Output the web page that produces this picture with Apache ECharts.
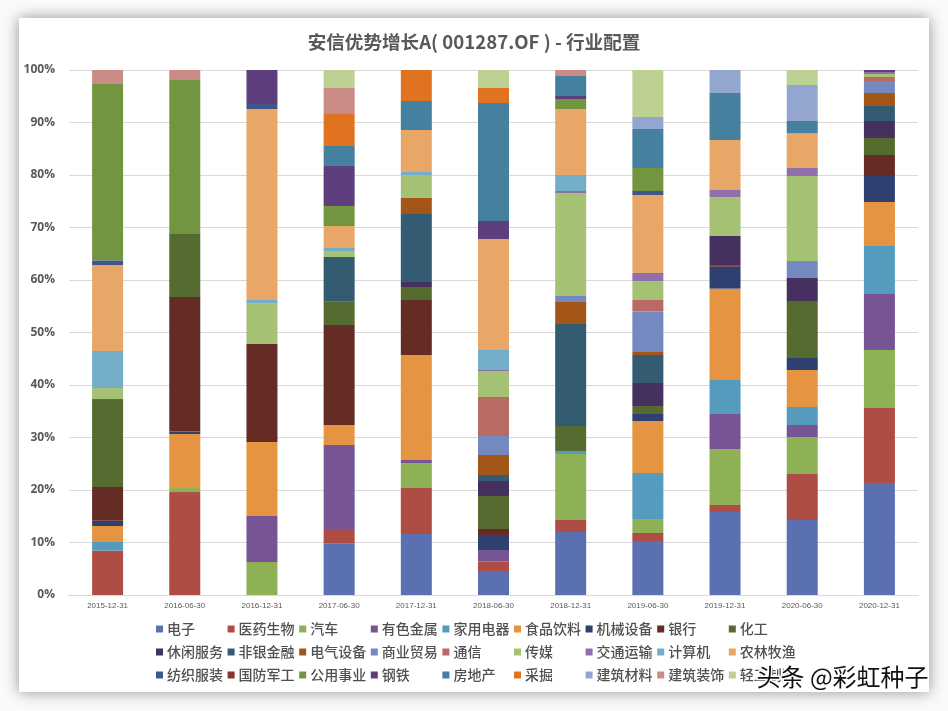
<!DOCTYPE html>
<html><head><meta charset="utf-8">
<script src="https://cdn.jsdelivr.net/npm/echarts@6/dist/echarts.min.js"></script>
<style>
html,body{margin:0;padding:0;width:948px;height:711px;background:#fafafa;overflow:hidden}
#card{position:absolute;left:19px;top:18px;width:910px;height:674px;background:#fff;box-shadow:0 0 14px rgba(0,0,0,.42)}
#c{position:absolute;left:0;top:0;width:948px;height:711px}
</style></head><body>
<div id="card"></div><div id="c"></div>
<script>
const categories=['2015-12-31','2016-06-30','2016-12-31','2017-06-30','2017-12-31','2018-06-30','2018-12-31','2019-06-30','2019-12-31','2020-06-30','2020-12-31'];
const titleText='安信优势增长A( 001287.OF ) - 行业配置';
const yTicks=[0,10,20,30,40,50,60,70,80,90,100];
const dianzi=[0,0,0,9.84,11.62,4.57,12,10.29,15.81,14.29,21.33];
const yiyao=[8.44,19.6,0,2.73,8.76,1.84,2.29,1.52,1.33,8.76,14.29];
const qiche=[0,.78,6.29,0,4.76,0,12.57,2.67,10.67,7.05,11.05];
const youse=[0,0,8.76,16,.57,2.16,0,0,6.67,2.28,10.66];
const jiadian=[1.66,0,0,0,0,0,.57,8.76,6.47,3.43,9.15];
const shipin=[3.04,10.29,14.09,3.81,20,0,0,9.9,17.4,7.05,8.38];
const jixie=[1,.5,0,0,0,2.86,0,1.34,4.18,2.28,4.95];
const yinhang=[6.42,25.59,18.67,19.05,10.48,1.14,0,0,.17,0,4];
const huagong=[16.76,12,0,4.44,2.48,6.29,4.76,1.52,0,10.86,3.24];
const xiuxian=[0,0,0,0,.95,2.85,0,4.38,5.68,4.38,3.24];
const feiyin=[0,0,0,8.51,12.95,1.15,19.43,5.33,0,0,2.85];
const dianqi=[0,0,0,0,3.05,3.81,4.19,.58,0,0,2.48];
const shangye=[0,0,0,0,0,3.62,1.14,7.68,0,3.24,2.28];
const tongxin=[0,0,0,0,0,7.42,0,2.22,0,0,.77];
const chuanmei=[2.1,0,7.74,1.14,4.38,4.96,19.62,3.62,7.43,16.19,.57];
const jiaotong=[0,0,0,0,0,.19,.38,1.52,1.33,1.52,.38];
const jisuanji=[7.05,0,.64,.58,.57,3.81,3.05,0,0,0,0];
const nonglin=[16.38,0,36.38,4.19,8,21.14,12.57,14.86,9.53,6.61,0];
const fangzhi=[.89,0,.95,0,0,0,0,.76,0,0,0];
const guofang=[0,0,0,0,0,0,0,0,0,0,0];
const gongyong=[33.75,29.34,0,3.81,0,0,1.91,4.38,0,0,0];
const gangtie=[0,0,6.48,7.61,0,3.43,.57,0,0,0,.38];
const fangdichan=[0,0,0,3.81,5.53,22.47,3.81,7.43,8.95,2.35,0];
const caijue=[0,0,0,6.1,5.9,2.86,0,0,0,0,0];
const jiancai=[0,0,0,0,0,0,0,2.29,4.38,6.85,0];
const jianzhuang=[2.5,1.9,0,4.95,0,0,1.14,0,0,0,0];
const qinggong=[0,0,0,3.43,0,3.43,0,8.95,0,2.86,0];
const names=['电子','医药生物','汽车','有色金属','家用电器','食品饮料','机械设备','银行','化工','休闲服务','非银金融','电气设备','商业贸易','通信','传媒','交通运输','计算机','农林牧渔','纺织服装','国防军工','公用事业','钢铁','房地产','采掘','建筑材料','建筑装饰','轻工制造'];
const values=[dianzi,yiyao,qiche,youse,jiadian,shipin,jixie,yinhang,huagong,xiuxian,feiyin,dianqi,shangye,tongxin,chuanmei,jiaotong,jisuanji,nonglin,fangzhi,guofang,gongyong,gangtie,fangdichan,caijue,jiancai,jianzhuang,qinggong];
const colors=['#5A70B0','#AD4D43','#8FB156','#775595','#559BBD','#E59441','#2F3F6F','#652B25','#556B30','#45305F','#335B72','#A35618','#7389BF','#BA6A64','#A5C274','#9070AB','#73ADC9','#E9A767','#3F5688','#86362F','#73953F','#5E3F7E','#45809F','#E0731F','#93A6D0','#CA8A86','#BCD192'];
const cjk='"Noto Sans CJK SC","Noto Sans",sans-serif';
const legends=[];
for(let i=0;i<9;i++){
  legends.push({orient:'vertical',left:156+i*71.6,top:622,itemWidth:7,itemHeight:7,itemGap:9,icon:'rect',
    data:[names[i],names[i+9],names[i+18]],selectedMode:false,padding:0,
    textStyle:{color:'#505050',fontSize:14,fontFamily:cjk,fontWeight:500,padding:[0,0,0,-1]}});
}
const chart=echarts.init(document.getElementById('c'),null,{renderer:'canvas'});
chart.setOption({
  animation:false,color:colors,
  title:{text:titleText,left:'center',top:28,textStyle:{color:'#595959',fontSize:18.6,fontWeight:'bold',fontFamily:cjk}},
  grid:{left:69,right:30,top:70,bottom:116},
  legend:legends,
  xAxis:{type:'category',data:categories,axisTick:{show:false},axisLine:{lineStyle:{color:'#d9d9d9'}},
    axisLabel:{color:'#595959',fontSize:8,margin:7,interval:0,fontFamily:'"Liberation Sans",sans-serif'}},
  yAxis:{type:'value',min:yTicks[0],max:yTicks[yTicks.length-1],interval:10,axisLine:{show:false},axisTick:{show:false},
    splitLine:{lineStyle:{color:'#d9d9d9'}},
    axisLabel:{formatter:'{value}%',color:'#595959',fontSize:12,fontWeight:'bold',margin:14,padding:[1,0,0,0],fontFamily:'"Open Sans",sans-serif'}},
  series:names.map((n,i)=>({name:n,type:'bar',stack:'all',barWidth:31,data:values[i],itemStyle:{color:colors[i]}})),
  graphic:[{type:'text',left:755,top:663,z:100,style:{text:'头条 @彩虹种子',fill:'#111',stroke:'#fff',lineWidth:3,font:'24px '+cjk}}]
});
</script></body></html>
